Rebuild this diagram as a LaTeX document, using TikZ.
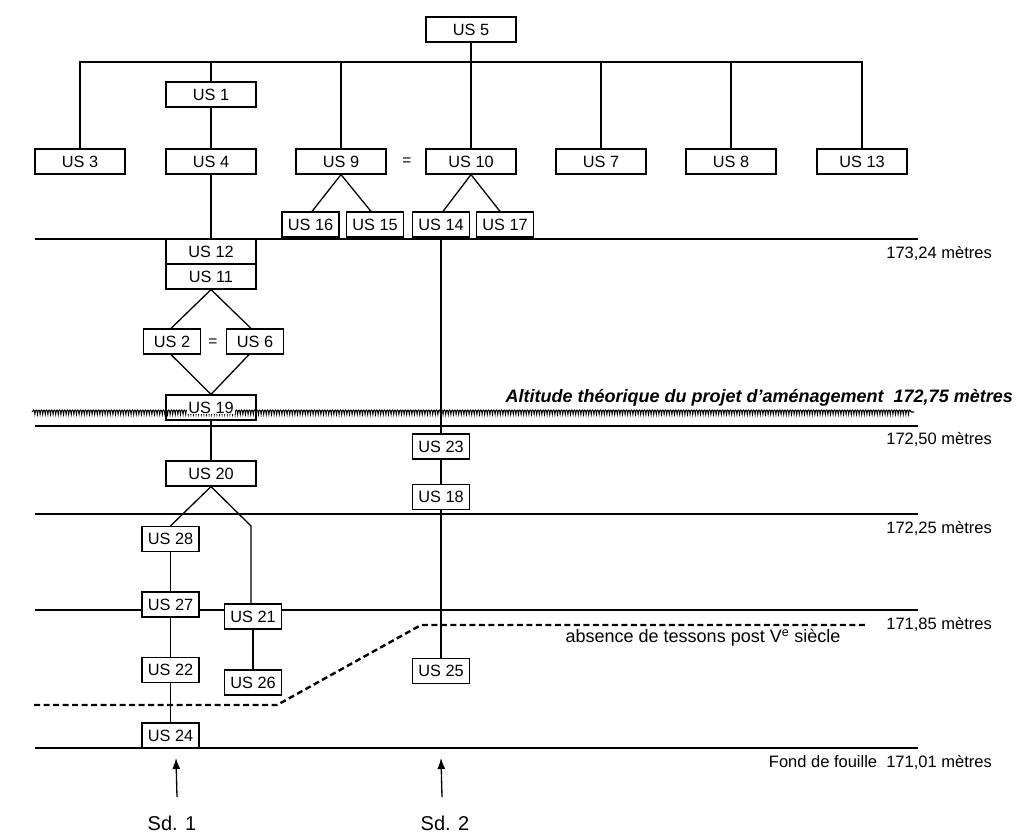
\documentclass[tikz,border=0pt]{standalone}
\usepackage{fontspec}
\setmainfont{Liberation Sans}
\usetikzlibrary{arrows.meta,decorations.pathmorphing,calc}
\begin{document}
\begin{tikzpicture}[x=1pt,y=-1pt,
  usbox/.style={draw, line width=1.2pt, fill=white, minimum height=25pt, inner sep=0pt, font=\fontsize{16.3}{18}\selectfont},
  wide/.style={usbox, minimum width=90pt},
  narrow/.style={usbox, minimum width=57pt},
  link/.style={line width=1.3pt},
  level/.style={line width=2.6pt},
  wavy/.style={line width=1.1pt, decorate, decoration={coil, amplitude=1.9pt, segment length=2.6pt, aspect=0.5}},
  dashline/.style={line width=2.4pt, dash pattern=on 6pt off 3.5pt},
  lvl/.style={anchor=east, inner sep=0pt, font=\fontsize{16.5}{19}\selectfont},
  eqsign/.style={inner sep=0pt, font=\fontsize{15.5}{18}\selectfont},
  sdlabel/.style={inner sep=0pt, font=\fontsize{20}{24}\selectfont},
  sdarrow/.style={line width=1.3pt, -{Latex[length=11pt,width=8pt]}}
]
\useasboundingbox (0,0) rectangle (1016,836);

% level lines
\coordinate (L1a) at (35,239);  \coordinate (L1b) at (918,239);
\coordinate (Wa) at (32,412);   \coordinate (Wb) at (914,412);
\coordinate (L2a) at (35,426);  \coordinate (L2b) at (918,426);
\coordinate (L3a) at (35,514);  \coordinate (L3b) at (918,514);
\coordinate (L4a) at (35,610);  \coordinate (L4b) at (918,610);
\coordinate (L5a) at (35,748);  \coordinate (L5b) at (918,748);
\draw[level] (L1a) -- (L1b);
\draw[level] (L2a) -- (L2b);
\draw[level] (L3a) -- (L3b);
\draw[level] (L4a) -- (L4b);
\draw[level] (L5a) -- (L5b);
\draw[wavy] (Wa) -- (Wb);

% dashed boundary
\coordinate (D1) at (34,705);
\coordinate (D2) at (277,705);
\coordinate (D3) at (421,625);
\coordinate (D4) at (867,625);
\draw[dashline] (D1) -- (D2) -- (D3) -- (D4);

% nodes (top)
\node[wide] (us5) at (471,29.5) {US 5};
\node[wide] (us1) at (211,94.5) {US 1};
\node[wide] (us3) at (80,161.5) {US 3};
\node[wide] (us4) at (211,161.5) {US 4};
\node[wide] (us9) at (341,161.5) {US 9};
\node[eqsign] (eq1) at (407,162) {=};
\node[wide] (us10) at (471,161.5) {US 10};
\node[wide] (us7) at (601,161.5) {US 7};
\node[wide] (us8) at (731,161.5) {US 8};
\node[wide] (us13) at (862,161.5) {US 13};
\node[narrow] (us16) at (310.5,224.5) {US 16};
\node[narrow] (us15) at (375,224.5) {US 15};
\node[narrow] (us14) at (441,224.5) {US 14};
\node[narrow] (us17) at (505,224.5) {US 17};

% left column
\node[wide] (us12) at (211,251.5) {US 12};
\node[wide] (us11) at (211,276.5) {US 11};
\node[narrow] (us2) at (172,341.5) {US 2};
\node[eqsign] (eq2) at (213,342.5) {=};
\node[narrow] (us6) at (255,341.5) {US 6};
\node[wide, fill=none] (us19) at (211,407.5) {\setlength\fboxsep{1pt}\colorbox{white}{US 19}};
\node[wide] (us20) at (211,473.5) {US 20};
\node[narrow] (us28) at (170.5,539) {US 28};
\node[narrow] (us27) at (170.5,604.5) {US 27};
\node[narrow] (us21) at (253,616.5) {US 21};
\node[narrow] (us22) at (170.5,670) {US 22};
\node[narrow] (us26) at (253,682.5) {US 26};
\node[narrow] (us24) at (170.5,735.5) {US 24};

% right column
\node[narrow] (us23) at (441,446.5) {US 23};
\node[narrow] (us18) at (441,497) {US 18};
\node[narrow] (us25) at (441,671) {US 25};

% connectors (top tree)
\coordinate (bus) at (471,62);
\draw[link] (us5.south) -- (bus);
\draw[link] (us3.north) |- (us13.north |- bus) -- (us13.north);
\draw[link] (us1.north) -- (us1.north |- bus);
\draw[link] (us9.north) -- (us9.north |- bus);
\draw[link] (us10.north) -- (bus);
\draw[link] (us7.north) -- (us7.north |- bus);
\draw[link] (us8.north) -- (us8.north |- bus);
\draw[link] (us1) -- (us4);
\draw[link] (us4) -- (us12);
\draw[link] (us9.south) -- ($(us16.north)+(1.5,0)$);
\draw[link] (us9.south) -- ($(us15.north)+(-4,0)$);
\draw[link] (us10.south) -- ($(us14.north)+(2,0)$);
\draw[link] (us10.south) -- ($(us17.north)+(-5,0)$);

% left column connectors
\draw[link] (us11.south) -- ($(us2.north)+(-1,0)$);
\draw[link] (us11.south) -- ($(us6.north)+(-4,0)$);
\draw[link] ($(us2.south)+(-1,0)$) -- (us19.north);
\draw[link] ($(us6.south)+(-6,0)$) -- (us19.north);
\draw[link] (us19) -- (us20);
\draw[link] (us20.south) -- (us28.north);
\draw[link] (us20.south) -- ($(us21.north |- us28.north)+(-2,0)$) -- ($(us21.north)+(-2,0)$);
\draw[link] (us28) -- (us27);
\draw[link] (us27) -- (us22);
\draw[link] (us22) -- (us24);
\draw[link] (us21) -- (us26);

% right column connectors
\draw[link] (us14) -- (us23);
\draw[link] (us23) -- (us18);
\draw[link] (us18) -- (us25);

% labels
\node[lvl] (t1) at (992,253) {173,24 mètres};
\node[anchor=east, inner sep=0pt, font=\fontsize{18}{21}\selectfont\bfseries\itshape] (alt) at (1013,398) {Altitude théorique du projet d’aménagement\ \ 172,75 mètres};
\node[lvl] (t2) at (992,439) {172,50 mètres};
\node[lvl] (t3) at (992,528) {172,25 mètres};
\node[lvl] (t4) at (992,624) {171,85 mètres};
\node[inner sep=0pt, font=\fontsize{18}{21}\selectfont] (abs) at (703,638) {absence de tessons post V\textsuperscript{e} siècle};
\node[lvl] (t5) at (992,762) {Fond de fouille\ \ 171,01 mètres};

% sondages
\node[sdlabel] (sd1) at (172,823) {Sd. 1};
\node[sdlabel] (sd2) at (445,823) {Sd. 2};
\coordinate (a1s) at (177,797); \coordinate (a1e) at (176,758);
\coordinate (a2s) at (442,797); \coordinate (a2e) at (441,758);
\draw[sdarrow] (a1s) -- (a1e);
\draw[sdarrow] (a2s) -- (a2e);
\end{tikzpicture}
\end{document}
